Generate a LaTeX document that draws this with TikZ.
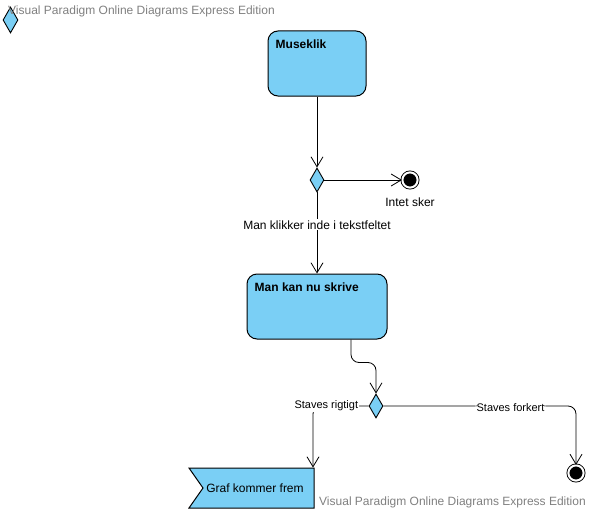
\documentclass[tikz,border=0pt]{standalone}
\usepackage{fontspec}
\setmainfont{Liberation Sans}
\usetikzlibrary{shapes.geometric}
\usetikzlibrary{shapes.symbols}
\usetikzlibrary{arrows.meta}
\definecolor{actfill}{RGB}{122,207,245}
\definecolor{wmgray}{RGB}{128,128,128}
\tikzstyle{action}=[draw, line width=1pt, fill=actfill, rounded corners=10pt, inner sep=0pt]
\tikzstyle{decision}=[draw, line width=0.9pt, fill=actfill, diamond, inner sep=0pt, minimum width=14pt, minimum height=24pt]
\tikzstyle{final}=[circle, fill=black, draw=black, double=white, double distance=2pt, line width=0.9pt, inner sep=0pt, minimum size=15.2pt]
\tikzstyle{signal}=[draw, line width=1pt, fill=actfill, shape=signal, signal from=west, signal to=nowhere, signal pointer angle=110, inner sep=0pt, minimum width=125pt, minimum height=40pt]
\tikzstyle{flow}=[line width=0.8pt, -{Straight Barb[length=10pt, width=12pt]}]
\tikzstyle{guard}=[fill=white, inner sep=1pt, font=\fontsize{11}{13}\selectfont]
\tikzstyle{title}=[font=\fontsize{12}{14}\selectfont\bfseries, inner sep=0pt, anchor=north west]
\tikzstyle{watermark}=[text=wmgray, font=\fontsize{12}{14}\selectfont, inner sep=0pt]

\begin{document}
\begin{tikzpicture}[x=1pt, y=-1pt, font=\fontsize{12}{14}\selectfont]
        \useasboundingbox (0, 0) rectangle (591, 511);
        \node[decision, minimum width=15pt, minimum height=26pt] (logo) at (10.5, 20) {};
        \node[watermark, anchor=west] (wm1) at (8, 11) {Visual Paradigm Online Diagrams Express Edition};
        \node[action, minimum width=98pt, minimum height=65pt,
            label={[title, xshift=8pt, yshift=-9pt]north west:Museklik}] (klik) at (317, 63.5) {};
        \node[decision] (valg1) at (317, 180) {};
        \node[final, label={[inner sep=0pt, yshift=-10pt]below:Intet sker}] (slut1) at (410, 180) {};
        \node[action, minimum width=140pt, minimum height=65pt,
            label={[title, xshift=8pt, yshift=-9pt]north west:Man kan nu skrive}] (skrive) at (317, 306.5) {};
        \node[decision] (valg2) at (376, 406) {};
        \node[final] (slut2) at (576, 473) {};
        \node[signal] (graf) at (258.5, 488) {\hspace{-7pt}Graf kommer frem};
        \node[watermark, anchor=west] (wm2) at (319, 502) {Visual Paradigm Online Diagrams Express Edition};
        \draw[flow] (klik.south) -- (valg1.north);
        \draw[flow] (valg1.east) -- (slut1.west);
        \draw[flow] (valg1.south) -- node[fill=white, inner sep=1pt, pos=0.4] {Man klikker inde i tekstfeltet} (skrive.north);
        \draw[flow, rounded corners=8pt] ([xshift=34pt]skrive.south) -- ++(0, 23) -| (valg2.north);
        \draw[flow, rounded corners=8pt] (valg2.west) -| node[guard, pos=0.38] {Staves rigtigt} ([xshift=-1.5pt]graf.north east);
        \draw[flow, rounded corners=8pt] (valg2.east) -| node[guard, pos=0.33, yshift=-1.5pt] {Staves forkert} (slut2.north);
    \end{tikzpicture}
\end{document}
